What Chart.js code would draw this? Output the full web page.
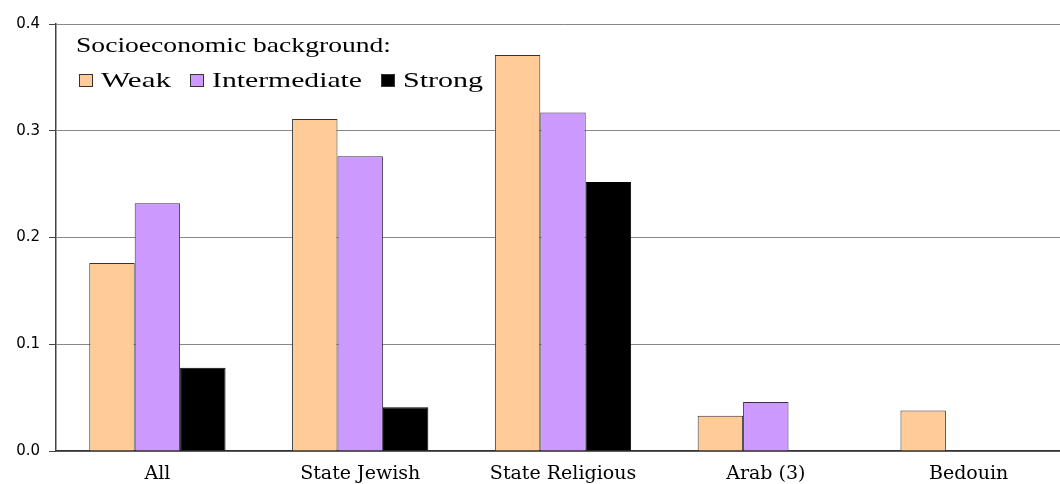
<!DOCTYPE html>
<html>
<head>
<meta charset="utf-8">
<script src="https://cdn.jsdelivr.net/npm/chart.js@4.4.0/dist/chart.umd.min.js"></script>
<style>
  html, body { margin: 0; padding: 0; background: #fff; overflow: hidden; }
  #wrap { width: 1070px; height: 484px; }
</style>
</head>
<body>
<div id="wrap"><canvas id="gapChart" width="1070" height="484"></canvas></div>
<script>
// categories and series
const categories = ["All", "State Jewish", "State Religious", "Arab (3)", "Bedouin"];
const weakValues = [0.176, 0.311, 0.371, 0.033, 0.038];
const intermediateValues = [0.232, 0.276, 0.317, 0.046, null];
const strongValues = [0.078, 0.041, 0.252, null, null];
const yTicks = [0, 0.1, 0.2, 0.3, 0.4];

const legendTitle = "Socioeconomic background:";

// legend drawn inside the plot, top left
const insideLegend = {
  id: 'insideLegend',
  afterDraw(chart) {
    const ctx = chart.ctx;
    const area = chart.chartArea;
    ctx.save();
    ctx.fillStyle = '#000';
    ctx.textBaseline = 'alphabetic';
    ctx.font = '21px "Liberation Serif"';
    // title, stretched a bit like the original
    let w = ctx.measureText(legendTitle).width;
    ctx.save();
    ctx.translate(area.left + 20, 52);
    ctx.scale(315 / w, 1);
    ctx.fillText(legendTitle, 0, 0);
    ctx.restore();

    const widths = [70, 150, 80];
    let x = area.left + 23;
    chart.data.datasets.forEach((ds, i) => {
      ctx.fillStyle = ds.backgroundColor;
      ctx.fillRect(x, 74, 14, 13);
      ctx.strokeStyle = '#333';
      ctx.lineWidth = 1;
      ctx.strokeRect(x + 0.5, 74.5, 13, 12);
      ctx.fillStyle = '#000';
      const tw = ctx.measureText(ds.label).width;
      ctx.save();
      ctx.translate(x + 22, 87);
      ctx.scale(widths[i] / tw, 1);
      ctx.fillText(ds.label, 0, 0);
      ctx.restore();
      x += 22 + widths[i] + 19;
    });
    ctx.restore();
  }
};

const gapCtx = document.getElementById('gapChart').getContext('2d');

const gapChart = new Chart(gapCtx, {
  type: 'bar',
  data: {
    labels: categories,
    datasets: [
      { label: 'Weak', data: weakValues, backgroundColor: '#FFCC99', borderColor: '#333333', borderWidth: 1 },
      { label: 'Intermediate', data: intermediateValues, backgroundColor: '#CC99FF', borderColor: '#3a2a4a', borderWidth: 1 },
      { label: 'Strong', data: strongValues, backgroundColor: '#000000', borderColor: '#000000', borderWidth: 1 }
    ]
  },
  plugins: [insideLegend],
  options: {
    responsive: false,
    maintainAspectRatio: false,
    animation: false,
    layout: { padding: { top: 24, right: 0, left: 0, bottom: 0 } },
    datasets: {
      bar: { barPercentage: 1.0, categoryPercentage: 0.672, borderSkipped: 'bottom' }
    },
    plugins: {
      legend: { display: false },
      tooltip: { enabled: false }
    },
    scales: {
      x: {
        grid: { display: false, drawTicks: false },
        border: { display: true, color: '#333333', width: 1.5 },
        ticks: {
          color: '#000',
          font: { family: '"DejaVu Serif"', size: 19 },
          padding: 12,
          maxRotation: 0
        },
        afterFit(scale) { scale.height = 33; }
      },
      y: {
        min: 0,
        max: 0.4,
        afterBuildTicks(scale) { scale.ticks = yTicks.map(v => ({ value: v })); },
        grid: { color: '#888888', lineWidth: 1, tickLength: 7, tickColor: '#444444' },
        border: { display: true, color: '#444444', width: 1.5 },
        ticks: {
          color: '#000',
          font: { family: '"DejaVu Sans"', size: 15 },
          padding: 9,
          callback: v => Number(v).toFixed(1)
        },
        afterFit(scale) { scale.width = 56; }
      }
    }
  }
});
</script>
</body>
</html>
